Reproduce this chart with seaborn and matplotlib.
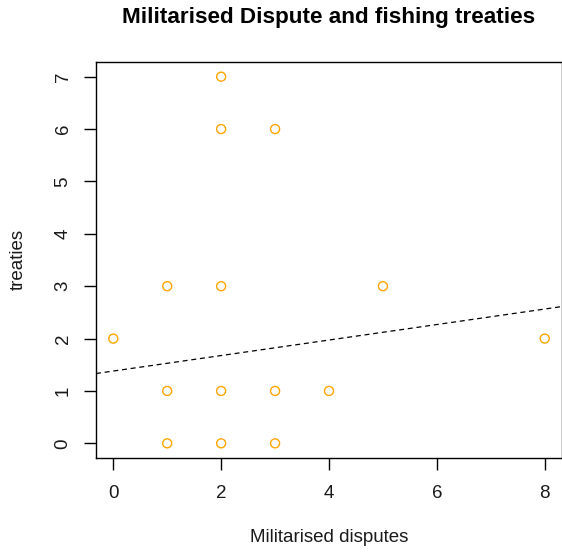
import pandas as pd
import matplotlib
matplotlib.use('Agg')
import matplotlib.pyplot as plt
import seaborn as sns

# data
disputes = [0, 1, 1, 1, 2, 2, 2, 2, 2, 3, 3, 3, 4, 5, 8]
treaties = [2, 3, 1, 0, 7, 6, 3, 1, 0, 6, 1, 0, 1, 3, 2]
# fitted line (abline of lm)
fit_intercept = 1.38
fit_slope = 0.148

df = pd.DataFrame({'disputes': disputes, 'treaties': treaties})

sns.set_style('ticks')
plt.rcParams['font.family'] = ['Liberation Sans', 'DejaVu Sans']

fig = plt.figure(figsize=(5.62, 5.58), dpi=100)
ax = fig.add_axes([96 / 562, 1 - 458 / 558, 466 / 562, 396 / 558])

sns.scatterplot(x='disputes', y='treaties', data=df, ax=ax, s=42,
                facecolors='none', edgecolor='#FFA500', linewidth=1.0)
ax.axline((0, fit_intercept), slope=fit_slope, color='black',
          linestyle=(0, (4, 3)), linewidth=0.9)

ax.set_xlim(-0.32, 8.32)
ax.set_ylim(-0.28, 7.28)
ax.set_xticks([0, 2, 4, 6, 8])
ax.set_yticks(range(8))
ax.tick_params(axis='both', length=8.6, width=1, color='black',
               labelsize=13.5, labelcolor='#1a1a1a')
ax.tick_params(axis='x', pad=10.5)
ax.tick_params(axis='y', pad=9)
for lab in ax.get_yticklabels():
    lab.set_rotation(90)
    lab.set_va('center')
for sp in ax.spines.values():
    sp.set_visible(True)
    sp.set_color('black')
    sp.set_linewidth(1)

ax.set_xlabel('')
ax.set_ylabel('')
fig.text(329 / 562, 1 - 538 / 558, 'Militarised disputes', ha='center',
         va='center', fontsize=13.5, color='#1a1a1a')
fig.text(18 / 562, 1 - 259 / 558, 'treaties', ha='center', va='center',
         rotation=90, fontsize=13.5, color='#1a1a1a')
fig.text(329 / 562, 1 - 17 / 558, 'Militarised Dispute and fishing treaties',
         ha='center', va='center', fontsize=16.2, fontweight='bold',
         color='black')

fig.savefig('out.png', dpi=100)
